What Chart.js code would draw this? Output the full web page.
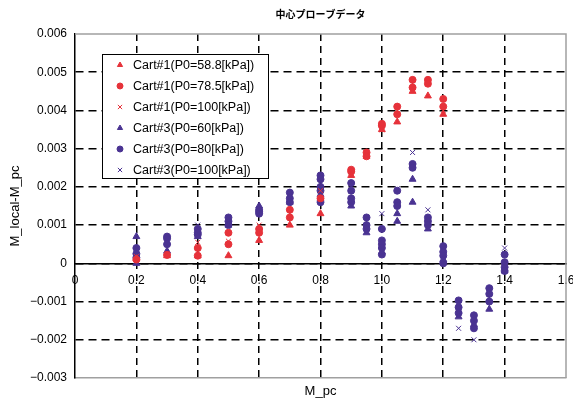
<!DOCTYPE html>
<html lang="ja">
<head>
<meta charset="UTF-8">
<title>中心プローブデータ</title>
<script src="https://cdn.jsdelivr.net/npm/chart.js"></script>
<style>
    html, body { margin: 0; padding: 0; background: #fff; }
    #wrap { width: 573px; height: 403px; }
</style>
</head>
<body>
<div id="wrap"><canvas id="probeChart" width="573" height="403"></canvas></div>
<script>
    // Cart#1 (P0=58.8kPa) - red triangles
    const c1a_x = [0.2, 0.3, 0.4, 0.5, 0.6, 0.7, 0.8, 0.9, 0.95, 1.0, 1.05, 1.1, 1.15, 1.2];
    const c1a_y = [0.00012, 0.0002, 0.0002, 0.0002, 0.0006, 0.001, 0.0013, 0.0023, 0.0028, 0.0035, 0.0037, 0.0045, 0.00438, 0.0039];

    // Cart#1 (P0=78.5kPa) - red circles
    const c1b_x = [0.2, 0.3, 0.4, 0.4, 0.5, 0.5, 0.6, 0.6, 0.7, 0.7, 0.8, 0.9, 0.9, 0.95, 0.95, 1.0, 1.0, 1.05, 1.05, 1.1, 1.1, 1.15, 1.15, 1.2, 1.2];
    const c1b_y = [0.0001, 0.00022, 0.0004, 0.0002, 0.0008, 0.0005, 0.0009, 0.0008, 0.0014, 0.0012, 0.0017, 0.00245, 0.0024, 0.0029, 0.0028, 0.00365, 0.0036, 0.0041, 0.0039, 0.0048, 0.0046, 0.0048, 0.0047, 0.0043, 0.0041];

    // Cart#1 (P0=100kPa) - red crosses
    const c1c_x = [0.2, 0.3, 0.4, 0.5, 0.6, 0.7, 0.8, 0.9, 0.95, 1.0, 1.05, 1.1, 1.15, 1.2];
    const c1c_y = [0.00018, 0.00025, 0.00055, 0.00058, 0.001, 0.0013, 0.0019, 0.0023, 0.0029, 0.0035, 0.004, 0.0047, 0.0047, 0.004];

    // Cart#3 (P0=60kPa) - purple triangles
    const c3a_x = [0.2, 0.2, 0.3, 0.4, 0.5, 0.6, 0.7, 0.8, 0.8, 0.9, 0.95, 1.0, 1.05, 1.05, 1.1, 1.1, 1.15, 1.2, 1.25, 1.3, 1.35, 1.4];
    const c3a_y = [0.0007, 0.0, 0.00032, 0.0007, 0.001, 0.0015, 0.0016, 0.0018, 0.0017, 0.0015, 0.0008, 0.0003, 0.0013, 0.0011, 0.0022, 0.0016, 0.0009, 0.0001, -0.0014, -0.0016, -0.0012, -0.0002];

    // Cart#3 (P0=80kPa) - purple circles
    const c3b_x = [0.2, 0.2, 0.2, 0.3, 0.3, 0.3, 0.4, 0.4, 0.4, 0.5, 0.5, 0.5, 0.6, 0.6, 0.6, 0.7, 0.7, 0.7,
                   0.8, 0.8, 0.8, 0.8, 0.8, 0.9, 0.9, 0.9, 0.9, 0.95, 0.95, 0.95, 1.0, 1.0, 1.0, 1.0, 1.0,
                   1.05, 1.05, 1.05, 1.1, 1.1, 1.15, 1.15, 1.15, 1.2, 1.2, 1.2, 1.2,
                   1.25, 1.25, 1.25, 1.3, 1.3, 1.3, 1.35, 1.35, 1.35, 1.4, 1.4, 1.4, 1.4];
    const c3b_y = [0.0004, 0.00025, 0.00015, 0.0007, 0.00065, 0.0005, 0.0009, 0.0008, 0.00075, 0.0012, 0.0011, 0.001, 0.0014, 0.00135, 0.0013, 0.00185, 0.0017, 0.0016,
                   0.0023, 0.0022, 0.002, 0.0019, 0.0016, 0.0021, 0.0019, 0.0017, 0.0016, 0.0012, 0.001, 0.0009, 0.0009, 0.0006, 0.0005, 0.0004, 0.00023,
                   0.0019, 0.0016, 0.0015, 0.0026, 0.0025, 0.0012, 0.0011, 0.001, 0.00045, 0.0003, 0.0002, 0.0,
                   -0.00097, -0.00115, -0.0013, -0.00136, -0.0015, -0.0017, -0.00065, -0.0008, -0.001, 0.00023, 0.00003, -0.0001, -0.0002];

    // Cart#3 (P0=100kPa) - purple crosses
    const c3c_x = [0.2, 0.3, 0.4, 0.5, 0.6, 0.7, 0.8, 0.9, 0.95, 1.0, 1.05, 1.1, 1.15, 1.2, 1.25, 1.3, 1.35, 1.4];
    const c3c_y = [0.0002, 0.0006, 0.001, 0.0012, 0.0014, 0.0018, 0.0021, 0.0019, 0.0011, 0.0013, 0.00195, 0.0029, 0.0014, 0.0003, -0.0017, -0.002, -0.0009, 0.0004];

    const xTicks = [0, 0.2, 0.4, 0.6, 0.8, 1.0, 1.2, 1.4, 1.6];

    const rojo = '#e6323a';
    const morado = '#4a3392';

    function pts(xs, ys) {
        return xs.map((x, i) => ({ x: x, y: ys[i] }));
    }

    function serie(label, xs, ys, color, style, r) {
        return {
            label: label,
            data: pts(xs, ys),
            pointStyle: style,
            pointRadius: r,
            pointHoverRadius: r,
            backgroundColor: color,
            borderColor: color,
            borderWidth: 1,
            showLine: false
        };
    }

    // legend drawn inside the plot area like the original
    const legendInside = {
        id: 'legendInside',
        afterDatasetsDraw(chart) {
            const { ctx, chartArea } = chart;
            const x = chartArea.left + 27, y = chartArea.top + 20, w = 166, h = 124;
            ctx.save();
            ctx.fillStyle = '#fff';
            ctx.fillRect(x, y, w, h);
            ctx.strokeStyle = '#000';
            ctx.lineWidth = 1;
            ctx.strokeRect(x + 0.5, y + 0.5, w, h);
            chart.data.datasets.forEach((ds, i) => {
                const cy = y + 11 + i * 21;
                ctx.fillStyle = ds.backgroundColor;
                ctx.strokeStyle = ds.borderColor;
                ctx.lineWidth = 1;
                Chart.helpers.drawPoint(ctx, { pointStyle: ds.pointStyle, radius: 3, borderWidth: 1, rotation: 0 }, x + 18, cy);
                ctx.fillStyle = '#000';
                ctx.font = '12.5px "Liberation Sans", Arial, sans-serif';
                ctx.textBaseline = 'middle';
                ctx.fillText(ds.label, x + 31, cy + 1);
            });
            ctx.restore();
        }
    };

    // gray frame on top and right
    const frame = {
        id: 'frame',
        beforeDatasetsDraw(chart) {
            const { ctx, chartArea } = chart;
            ctx.save();
            ctx.strokeStyle = '#a0a0a0';
            ctx.lineWidth = 1.5;
            ctx.beginPath();
            ctx.moveTo(chartArea.left, chartArea.top);
            ctx.lineTo(chartArea.right, chartArea.top);
            ctx.lineTo(chartArea.right, chartArea.bottom);
            ctx.stroke();
            ctx.restore();
        }
    };

    function edge(v, a, b) {
        return Math.abs(v - a) < 1e-9 || Math.abs(v - b) < 1e-9;
    }

    Chart.defaults.font.family = '"Liberation Sans", Arial, sans-serif';
    Chart.defaults.font.size = 12;
    Chart.defaults.color = '#000';

    const ctx = document.getElementById('probeChart');
    const probeChart = new Chart(ctx, {
        type: 'scatter',
        data: {
            datasets: [
                serie('Cart#1(P0=58.8[kPa])', c1a_x, c1a_y, rojo, 'triangle', 4),
                serie('Cart#1(P0=78.5[kPa])', c1b_x, c1b_y, rojo, 'circle', 3.5),
                serie('Cart#1(P0=100[kPa])', c1c_x, c1c_y, rojo, 'crossRot', 3.5),
                serie('Cart#3(P0=60[kPa])', c3a_x, c3a_y, morado, 'triangle', 4),
                serie('Cart#3(P0=80[kPa])', c3b_x, c3b_y, morado, 'circle', 3.5),
                serie('Cart#3(P0=100[kPa])', c3c_x, c3c_y, morado, 'crossRot', 3.5)
            ]
        },
        options: {
            responsive: false,
            animation: false,
            layout: { padding: { left: 0, right: 7, top: 0, bottom: 0 } },
            plugins: {
                legend: { display: false },
                tooltip: { enabled: false },
                title: {
                    display: true,
                    fullSize: false,
                    text: '中心プローブデータ',
                    color: '#000',
                    font: { family: '"Noto Sans CJK JP", sans-serif', size: 10, weight: 'bold' },
                    padding: { top: 8, bottom: 14 }
                }
            },
            scales: {
                x: {
                    type: 'linear',
                    position: 'bottom',
                    min: 0,
                    max: 1.6,
                    afterBuildTicks: s => { s.ticks = xTicks.map(v => ({ value: v })); },
                    ticks: { display: false },
                    grid: {
                        drawTicks: false,
                        lineWidth: 1.5,
                        color: c => edge(c.tick.value, 0, 1.6) ? 'rgba(0,0,0,0)' : '#000'
                    },
                    border: { display: true, color: '#a0a0a0', width: 1.5, dash: [7, 5] },
                    title: {
                        display: true,
                        text: 'M_pc',
                        font: { size: 13 },
                        padding: { top: 0, bottom: 4 }
                    },
                    afterFit: s => { s.height = 25; }
                },
                x0: {
                    type: 'linear',
                    axis: 'x',
                    position: { y: 0 },
                    min: 0,
                    max: 1.6,
                    afterBuildTicks: s => { s.ticks = xTicks.map(v => ({ value: v })); },
                    ticks: {
                        padding: 10,
                        maxRotation: 0,
                        callback: v => v === 0 ? '0' : v.toFixed(1)
                    },
                    grid: { display: false, drawTicks: false },
                    border: { display: true, color: '#000', width: 1.5 },
                    afterFit: s => { s.paddingLeft = 0; s.paddingRight = 0; }
                },
                y: {
                    type: 'linear',
                    min: -0.003,
                    max: 0.006,
                    ticks: {
                        stepSize: 0.001,
                        padding: 8,
                        callback: v => Math.abs(v) < 1e-10 ? '0' : (v < 0 ? '\u2212' : '') + Math.abs(v).toFixed(3)
                    },
                    grid: {
                        drawTicks: false,
                        lineWidth: 1.5,
                        color: c => edge(c.tick.value, -0.003, 0.006) ? 'rgba(0,0,0,0)' : '#000'
                    },
                    border: { display: true, color: '#000', width: 1.5, dash: [8, 5] },
                    title: {
                        display: true,
                        text: 'M_local-M_pc',
                        font: { size: 13 },
                        padding: { top: 8, bottom: 0 }
                    },
                    afterFit: s => { s.width = 75; }
                }
            }
        },
        plugins: [frame, legendInside]
    });
</script>
</body>
</html>
